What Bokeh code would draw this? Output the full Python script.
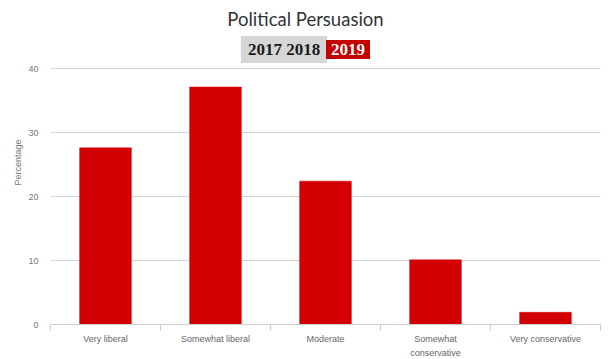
from bokeh.plotting import figure
from bokeh.models import Range1d, FixedTicker, Label
from bokeh.embed import file_html
from bokeh.resources import INLINE

categories = ["Very liberal", "Somewhat liberal", "Moderate", "Somewhat\nconservative", "Very conservative"]
values = [27.6, 37.1, 22.4, 10.1, 1.9]
y_ticks = [0, 10, 20, 30, 40]
title_text = "Political Persuasion"
years_off = "2017 2018"
year_on = "2019"

n = len(categories)
centers = [i + 0.5 for i in range(n)]
bounds = [i for i in range(n + 1)]

# frame extends up to the top of the figure so the header texts sit inside it
p = figure(frame_width=550, frame_height=324, output_backend="svg", toolbar_location=None,
           x_range=Range1d(0, n), y_range=Range1d(0, 40 + 68 * 40 / 256),
           min_border_left=50, min_border_right=15, min_border_top=0, min_border_bottom=35)
p.outline_line_color = None
p.background_fill_color = "white"
p.border_fill_color = "white"

p.vbar(x=centers, top=values, width=0.47, fill_color="#d20000", line_color="#d20000", line_width=0.5)

# x axis
xa = p.xaxis[0]
xa.ticker = FixedTicker(ticks=centers, minor_ticks=bounds)
xa.major_label_overrides = {c: lab for c, lab in zip(centers, categories)}
xa.major_tick_line_color = None
xa.major_tick_in = 0
xa.major_tick_out = 0
xa.minor_tick_line_color = "#cccccc"
xa.minor_tick_in = 0
xa.minor_tick_out = 6
xa.axis_line_color = "#cccccc"
xa.major_label_text_font = "Liberation Sans"
xa.major_label_text_font_size = "9px"
xa.major_label_text_color = "#666666"
xa.major_label_text_line_height = 1.4
xa.major_label_standoff = 3

# y axis
ya = p.yaxis[0]
ya.ticker = FixedTicker(ticks=y_ticks)
ya.axis_line_color = None
ya.major_tick_line_color = None
ya.major_tick_in = 0
ya.major_tick_out = 0
ya.minor_tick_line_color = None
ya.major_label_text_font = "Liberation Sans"
ya.major_label_text_font_size = "9px"
ya.major_label_text_color = "#777777"
ya.major_label_standoff = 12
ya.axis_label = "Percentage"
ya.axis_label_text_font = "Liberation Sans"
ya.axis_label_text_font_size = "9px"
ya.axis_label_text_font_style = "normal"
ya.axis_label_text_color = "#777777"
ya.axis_label_standoff = 2

p.xgrid.grid_line_color = None
p.ygrid.grid_line_color = "#d4d4d4"
p.ygrid.ticker = FixedTicker(ticks=y_ticks)

p.add_layout(Label(x=255, y=306, x_units="screen", y_units="screen", text=title_text,
                   text_align="center", text_baseline="middle", text_font="Lato",
                   text_font_size="18.5px", text_color="#333333"))
p.add_layout(Label(x=233.5, y=275, x_units="screen", y_units="screen", text=years_off,
                   text_align="center", text_baseline="middle", text_font="Liberation Serif",
                   text_font_style="bold", text_font_size="17px", text_color="#1a1a1a",
                   background_fill_color="#d6d6d6",
                   padding=dict(left=7, right=7, top=4, bottom=4)))
p.add_layout(Label(x=297.5, y=275, x_units="screen", y_units="screen", text=year_on,
                   text_align="center", text_baseline="middle", text_font="Liberation Serif",
                   text_font_style="bold", text_font_size="17px", text_color="white",
                   background_fill_color="#c40000",
                   padding=dict(left=5, right=5, top=4, bottom=4)))

open("out.html", "w").write(file_html(p, INLINE))
